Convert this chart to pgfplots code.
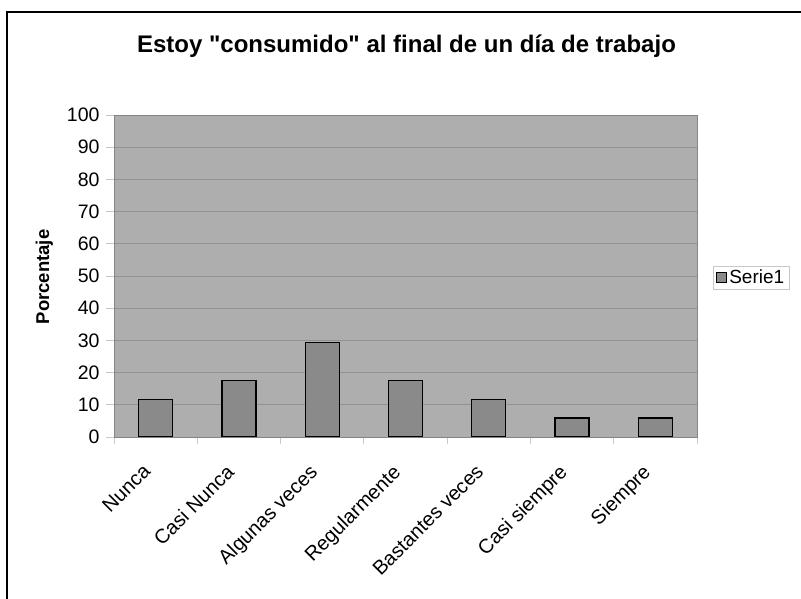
\documentclass[border=0pt]{standalone}
\usepackage{pgfplots}
\pgfplotsset{compat=1.18}
\usepackage{fontspec}
\setmainfont{Liberation Sans}[Ligatures=TeXOff]

\definecolor{plotbg}{HTML}{AEAEAE}
\definecolor{barfill}{HTML}{8A8A8A}
\definecolor{gridc}{HTML}{929292}
\definecolor{axisc}{HTML}{858585}
\definecolor{tickc}{HTML}{C8C8C8}

\begin{document}
\begin{tikzpicture}[x=1pt,y=1pt]
  \path[use as bounding box] (0,0) rectangle (801,598);
  % outer chart frame
  \draw[black, line width=1.8pt] (7,-5) -- (7,586) -- (806,586);

  % title and axis label
  \node[anchor=base, font=\fontsize{24}{28}\selectfont\bfseries]
    at (406.5,545) {Estoy "consumido" al final de un día de trabajo};
  \node[anchor=base, rotate=90, font=\fontsize{18.5}{21}\selectfont\bfseries]
    at (49,321) {Porcentaje};

  \begin{axis}[
    at={(114pt,161pt)}, anchor=south west,
    scale only axis, width=583pt, height=322pt,
    xmin=-0.5, xmax=6.5, ymin=0, ymax=100,
    ytick={0,10,...,100},
    xtick={0,...,6},
    xticklabels={Nunca, Casi Nunca, Algunas veces, Regularmente, Bastantes veces, Casi siempre, Siempre},
    minor xtick={-0.5,0.5,...,6.5},
    xtick pos=lower, ytick pos=lower,
    major x tick style={draw=none},
    minor x tick style={draw=tickc, line width=0.8pt},
    major y tick style={draw=tickc, line width=0.8pt},
    tick align=outside,
    major tick length=8pt, minor tick length=7pt,
    x axis line style={draw=none},
    axis background/.style={fill=plotbg},
    axis line style={draw=axisc, line width=1pt},
    ymajorgrids, grid style={draw=gridc, line width=0.8pt},
    /pgf/number format/assume math mode=true,
    yticklabel style={font=\fontsize{19.5}{22}\selectfont, xshift=-3pt},
    xticklabel style={font=\fontsize{20}{23}\selectfont, anchor=north east, inner sep=0pt,
      xshift=-14pt, yshift=-18pt, rotate=45},
    ybar, bar width=34pt,
    legend style={at={(1.0274,0.495)}, anchor=west, draw=tickc, line width=0.8pt,
      font=\fontsize{19}{22}\selectfont, inner xsep=3pt, inner ysep=2pt},
    legend image code/.code={\draw[black, line width=0.9pt, fill=barfill] (0pt,-5pt) rectangle (10pt,5pt);},
    clip=false,
  ]
    \addplot[fill=barfill, draw=black, line width=1.2pt]
      coordinates {(0,11.76) (1,17.65) (2,29.41) (3,17.65) (4,11.76) (5,5.88) (6,5.88)};
    \addlegendentry{Serie1}
    % plot area border
    \draw[axisc, line width=1pt] (rel axis cs:0,0) rectangle (rel axis cs:1,1);
  \end{axis}
\end{tikzpicture}
\end{document}
